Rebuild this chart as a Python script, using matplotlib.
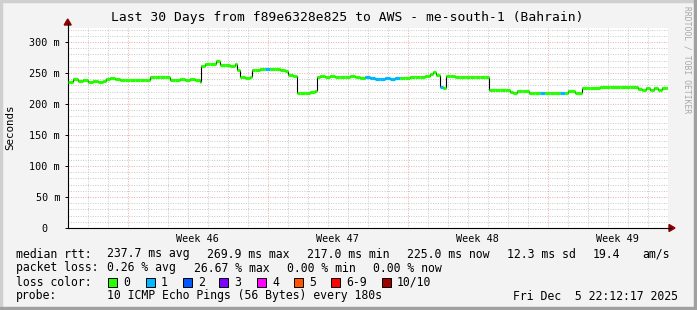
import matplotlib
matplotlib.use("Agg")
import matplotlib.pyplot as plt
from matplotlib.patches import Polygon, Rectangle
import numpy as np

# ---------------- data ----------------
day = [0.00, 0.25, 0.50, 0.75, 1.00, 1.25, 1.50, 1.75, 1.90, 2.10, 2.35, 2.60, 2.85,
       3.10, 3.35, 3.60, 3.85, 4.10, 4.35, 4.60, 4.85, 5.10, 5.35, 5.60, 5.85, 6.10,
       6.35, 6.60, 6.65, 6.85, 7.10, 7.40, 7.60, 7.85, 8.10, 8.35, 8.45, 8.60, 8.85,
       9.10, 9.20, 9.35, 9.60, 9.85, 10.10, 10.35, 10.60, 10.85, 11.00, 11.25, 11.45,
       11.60, 11.85, 12.10, 12.35, 12.45, 12.60, 12.85, 13.10, 13.35, 13.60, 13.85,
       14.10, 14.35, 14.60, 14.85, 15.10, 15.35, 15.60, 15.85, 16.10, 16.35, 16.60,
       16.85, 17.10, 17.35, 17.60, 17.85, 18.10, 18.25, 18.40, 18.60, 18.75, 18.90,
       19.10, 19.35, 19.60, 19.85, 20.10, 20.35, 20.60, 20.85, 21.05, 21.35, 21.60,
       21.85, 22.10, 22.25, 22.45, 22.70, 23.05, 23.35, 23.60, 23.85, 24.10, 24.35,
       24.60, 24.85, 25.00, 25.35, 25.70, 26.10, 26.60, 27.10, 27.60, 28.10, 28.50,
       28.70, 28.90, 29.10, 29.30, 29.50, 29.70, 29.90]
rtt_ms = [236, 240, 237, 238, 236, 237, 236, 237, 241, 242, 240, 239, 238,
          238, 239, 238, 239, 244, 244, 243, 244, 238, 239, 240, 238, 240,
          239, 236, 262, 264, 264, 270, 263, 263, 262, 264, 255, 243, 242,
          243, 255, 255, 256, 256, 256, 257, 255, 253, 246, 245, 217,
          217, 218, 219, 221, 244, 245, 244, 245, 243, 244, 243,
          245, 243, 242, 243, 242, 241, 241, 242, 241, 242, 242,
          242, 243, 243, 244, 245, 248, 252, 247, 227, 225, 245,
          245, 244, 243, 244, 243, 243, 243, 243, 222, 222, 222,
          222, 219, 218, 221, 221, 217, 217, 217, 217, 217, 217,
          217, 217, 221, 218, 226, 226, 227, 228, 228, 228, 224,
          223, 226, 222, 226, 223, 226, 225]
loss = [0] * len(day)
for _i, _d in enumerate(day):
    if 14.85 <= _d <= 16.40 or _d in (9.85, 23.60, 24.60, 18.60):
        loss[_i] = 1
day_end = 30.0

y_ticks = [0, 50, 100, 150, 200, 250, 300]
y_labels = ["0  ", "50 m", "100 m", "150 m", "200 m", "250 m", "300 m"]
week_pos = [6.5, 13.5, 20.5, 27.5]
week_labels = ["Week 46", "Week 47", "Week 48", "Week 49"]
week_major = [3, 10, 17, 24]

loss_labels = ["0", "1", "2", "3", "4", "5", "6-9", "10/10"]
loss_colors = ["#26ff00", "#00b8ff", "#0059ff", "#7e00ff", "#ff00ff",
               "#ff5500", "#ff0000", "#a10000"]

title = "Last 30 Days from f89e6328e825 to AWS - me-south-1 (Bahrain)"

# ---------------- figure ----------------
W, H = 697, 310
fig = plt.figure(figsize=(W / 100, H / 100), dpi=100)
fig.patch.set_facecolor("#f3f3f3")
MONO = "DejaVu Sans Mono"

L, R, T, B = 67.7, 667.7, 28, 228
ax = fig.add_axes([L / W, (H - B) / H, (R - L) / W, (B - T) / H])
ax.set_facecolor("white")
ymax = (B - T) / 0.62
ax.set_xlim(0, 30)
ax.set_ylim(0, ymax)

dot = (0, (1, 1.5))
for v in range(10, int(ymax) + 1, 10):
    if v % 50:
        ax.axhline(v, color="#c8c8c8", lw=0.7, ls=dot, zorder=1)
for d in range(1, 31):
    if d not in week_major:
        ax.axvline(d, color="#c8c8c8", lw=0.7, ls=dot, zorder=1)
for v in y_ticks[1:]:
    ax.axhline(v, color="#eeaaaa", lw=0.7, ls=dot, zorder=1.5)
for d in week_major:
    ax.axvline(d, color="#eeaaaa", lw=0.7, ls=dot, zorder=1.5)

# median line: black steps, coloured horizontal segments
x_edges = list(day[1:]) + [day_end]
for i in range(len(day) - 1):
    ax.plot([x_edges[i], x_edges[i]], [rtt_ms[i], rtt_ms[i + 1]],
            color="black", lw=0.8, zorder=3, solid_capstyle="butt")
for i in range(len(day)):
    ax.hlines(rtt_ms[i], day[i], x_edges[i], color=loss_colors[loss[i]],
              lw=2.3, zorder=4)
    ax.hlines(rtt_ms[i], day[i], x_edges[i], color="black", lw=0.3, zorder=3.5)

ax.set_yticks(y_ticks)
ax.set_yticklabels(y_labels, fontfamily=MONO, fontsize=7.3)
ax.tick_params(axis="y", length=2.5, width=0.7, pad=3.0, color="black")
ax.set_xticks(week_pos)
ax.set_xticklabels(week_labels, fontfamily=MONO, fontsize=7.3)
ax.tick_params(axis="x", length=0, pad=4.0)
for s in ("top", "right"):
    ax.spines[s].set_visible(False)
ax.spines["left"].set_linewidth(0.8)
ax.spines["bottom"].set_linewidth(0.8)

# arrows and axis extensions (pixel coordinates)
def py(y):
    return H - y

fig.lines.append(plt.Line2D([L, L], [py(T), py(23)], color="black", lw=0.8,
                            transform=None))
fig.lines.append(plt.Line2D([R, 671], [py(B), py(B)], color="black", lw=0.8,
                            transform=None))
fig.patches.append(Polygon([[L - 3.5, py(25)], [L + 3.5, py(25)], [L, py(19)]],
                           closed=True, color="#8b0000", transform=None))
fig.patches.append(Polygon([[669, py(B) + 3.5], [669, py(B) - 3.5], [675, py(B)]],
                           closed=True, color="#8b0000", transform=None))

# frame
fig.patches.append(Rectangle((0, H - 2), W, 2, color="#cfcfcf", transform=None))
fig.patches.append(Rectangle((0, 0), 2, H, color="#cfcfcf", transform=None))
fig.patches.append(Rectangle((W - 3, 0), 3, H, color="#a0a0a0", transform=None))
fig.patches.append(Rectangle((0, 0), W, 3, color="#a0a0a0", transform=None))

def txt(x, y, s, **kw):
    kw.setdefault("fontfamily", MONO)
    kw.setdefault("fontsize", 8.3)
    kw.setdefault("va", "center")
    kw.setdefault("ha", "left")
    fig.text(x / W, 1 - y / H, s, **kw)

txt(347, 18, title, ha="center", fontsize=9.4)
txt(10, 127, "Seconds", ha="center", rotation=90, fontsize=7.8)
txt(687, 60, "RRDTOOL / TOBI OETIKER", ha="center", rotation=270,
    fontsize=5.8, color="#a8a8a8")

# legend lines
y1, y2, y3, y4 = 254, 268, 282, 296
txt(16, y1, "median rtt:")
for x, s in [(107, "237.7 ms avg"), (207, "269.9 ms max"), (307, "217.0 ms min"),
             (407, "225.0 ms now"), (507, "12.3 ms sd"), (593, "19.4"), (642, "am/s")]:
    txt(x, y1, s)
txt(16, y2, "packet loss:")
for x, s in [(107, "0.26 % avg"), (194, "26.67 % max"), (287, "0.00 % min"),
             (373, "0.00 % now")]:
    txt(x, y2, s)
txt(16, y3, "loss color:")
box_x = [108, 146, 183, 219, 257, 294, 331, 382]
for bx, lab, col in zip(box_x, loss_labels, loss_colors):
    fig.patches.append(Rectangle((bx, py(y3) - 4.5), 9, 9, facecolor=col,
                                 edgecolor="black", lw=0.7, transform=None))
    txt(bx + 15, y3, lab)
txt(16, y4, "probe:")
txt(107, y4, "10 ICMP Echo Pings (56 Bytes) every 180s")
txt(513, y4, "Fri Dec  5 22:12:17 2025")

fig.savefig("out.png", dpi=100, facecolor=fig.get_facecolor())
